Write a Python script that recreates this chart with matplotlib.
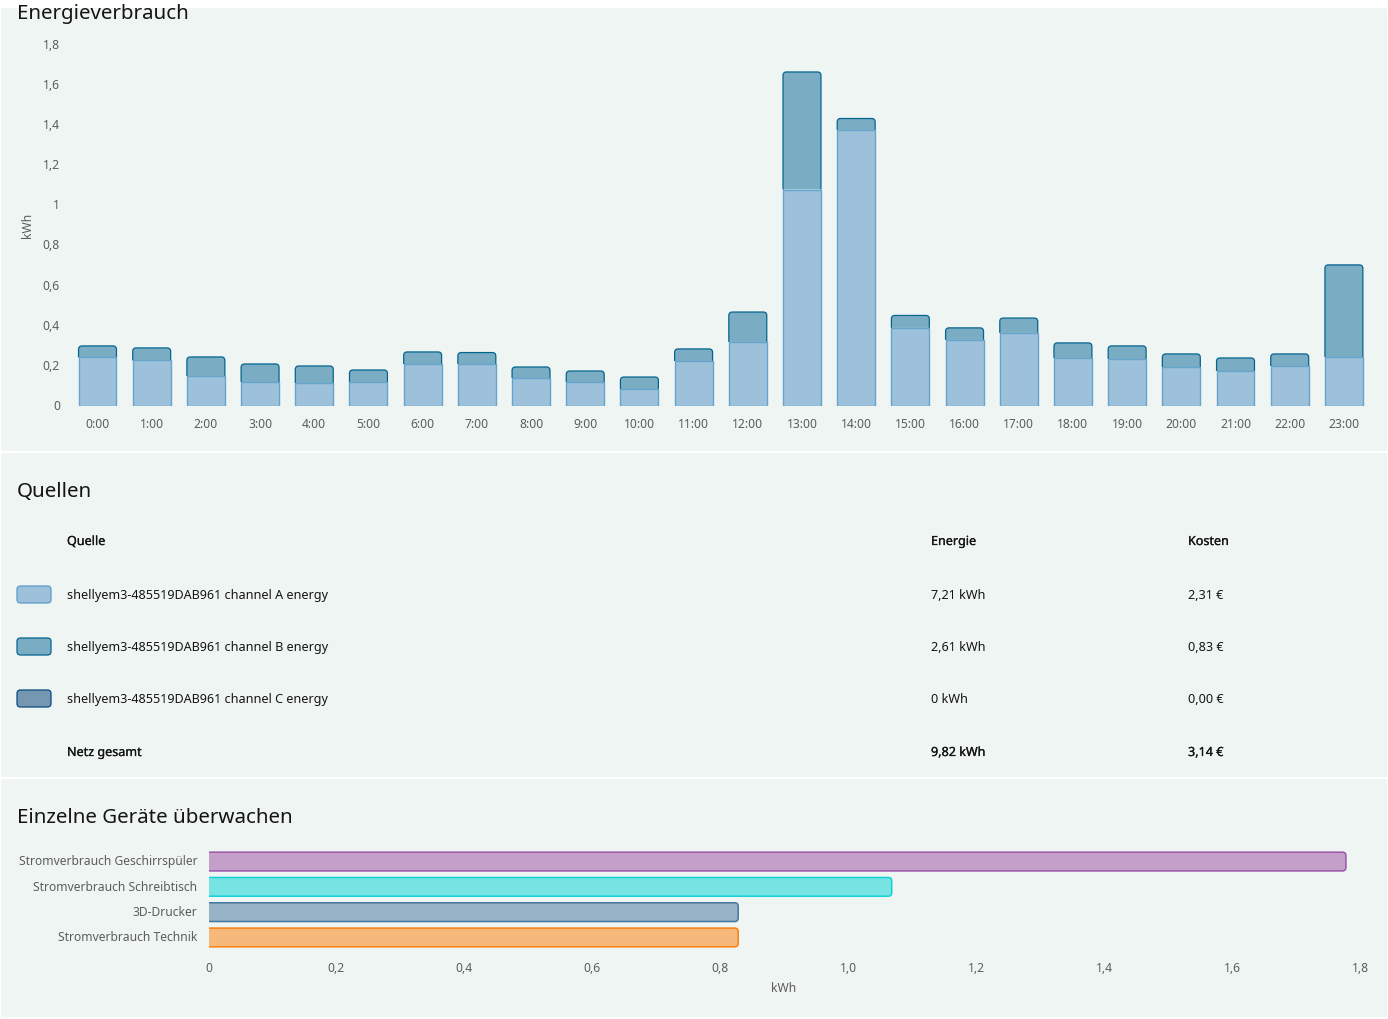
import matplotlib
matplotlib.use("Agg")
import matplotlib.pyplot as plt
import matplotlib.patches as mpatches
import matplotlib.patheffects as pe
from matplotlib.path import Path
from matplotlib.transforms import ScaledTranslation

W, H = 1388, 1019
plt.rcParams["font.family"] = ["Noto Sans", "DejaVu Sans"]

CARD = "#eff5f3"
TICK = "#5c5c5c"
DARK = "#141414"
TICK_SIZE = 8.7
TABLE_SIZE = 9.06
TITLE_SIZE = 14.75

hours = [f"{h}:00" for h in range(24)]
channel_a = [0.240, 0.225, 0.147, 0.117, 0.112, 0.117, 0.207, 0.207, 0.137, 0.117, 0.082, 0.222,
             0.317, 1.077, 1.374, 0.387, 0.327, 0.362, 0.237, 0.232, 0.192, 0.172, 0.197, 0.242]
channel_b = [0.057, 0.062, 0.095, 0.090, 0.085, 0.060, 0.060, 0.057, 0.055, 0.055, 0.060, 0.060,
             0.149, 0.586, 0.057, 0.062, 0.060, 0.074, 0.075, 0.065, 0.065, 0.065, 0.060, 0.459]
y_ticks = [0, 0.2, 0.4, 0.6, 0.8, 1.0, 1.2, 1.4, 1.6, 1.8]
y_tick_labels = ["0", "0,2", "0,4", "0,6", "0,8", "1", "1,2", "1,4", "1,6", "1,8"]

table_header = ["Quelle", "Energie", "Kosten"]
source_names = ["shellyem3-485519DAB961 channel A energy",
                "shellyem3-485519DAB961 channel B energy",
                "shellyem3-485519DAB961 channel C energy"]
source_energy = ["7,21 kWh", "2,61 kWh", "0 kWh"]
source_cost = ["2,31 €", "0,83 €", "0,00 €"]
table_total = ["Netz gesamt", "9,82 kWh", "3,14 €"]

devices = ["Stromverbrauch Geschirrspüler", "Stromverbrauch Schreibtisch", "3D-Drucker", "Stromverbrauch Technik"]
device_values = [1.778, 1.068, 0.828, 0.828]
device_fill = ["#c39fca", "#77e4e3", "#98b2c7", "#f6b97b"]
device_edge = ["#9c55a8", "#10d3d6", "#44779f", "#fd7f0e"]
x_ticks = [0, 0.2, 0.4, 0.6, 0.8, 1.0, 1.2, 1.4, 1.6, 1.8]
x_tick_labels = ["0", "0,2", "0,4", "0,6", "0,8", "1,0", "1,2", "1,4", "1,6", "1,8"]


def px_axes(fig, left, top, right, bottom):
    return fig.add_axes([left / W, 1 - bottom / H, (right - left) / W, (bottom - top) / H])


def rounded_bar(ax, x0, y0, x1, y1, side, fill, edge, r=3.5, lw=0.9, zorder=2):
    # rounded corners on the far end of the bar only, the base stays open
    box = ax.get_window_extent()
    rx = r * abs(ax.get_xlim()[1] - ax.get_xlim()[0]) / box.width
    ry = r * abs(ax.get_ylim()[1] - ax.get_ylim()[0]) / box.height
    if side == "top":
        verts = [(x0, y0), (x0, y1 - ry), (x0, y1), (x0 + rx, y1),
                 (x1 - rx, y1), (x1, y1), (x1, y1 - ry), (x1, y0)]
    else:
        verts = [(x0, y0), (x1 - rx, y0), (x1, y0), (x1, y0 + ry),
                 (x1, y1 - ry), (x1, y1), (x1 - rx, y1), (x0, y1)]
    codes = [Path.MOVETO, Path.LINETO, Path.CURVE3, Path.CURVE3,
             Path.LINETO, Path.CURVE3, Path.CURVE3, Path.LINETO]
    ax.add_patch(mpatches.PathPatch(Path(verts, codes), facecolor=fill, edgecolor="none", zorder=zorder))
    ax.add_patch(mpatches.PathPatch(Path(verts, codes), facecolor="none", edgecolor=edge, lw=lw, zorder=zorder))


def clean_axis(ax):
    ax.patch.set_alpha(0)
    for s in ax.spines.values():
        s.set_visible(False)
    ax.tick_params(length=0, labelsize=TICK_SIZE, labelcolor=TICK)


def shift_labels(labels, fig, dy_px):
    for label in labels:
        label.set_transform(label.get_transform() + ScaledTranslation(0, dy_px / 100, fig.dpi_scale_trans))


fig = plt.figure(figsize=(W / 100, H / 100), dpi=100, facecolor="white")

# page layer in pixel coordinates
page = fig.add_axes([0, 0, 1, 1])
page.set_xlim(0, W)
page.set_ylim(H, 0)
page.axis("off")

cards = []
for top, bottom in [(8, 451), (453, 777), (779, 1017)]:
    card = mpatches.FancyBboxPatch((3, top + 2), W - 6, bottom - top - 4, boxstyle="round,pad=2",
                                   facecolor=CARD, edgecolor="none")
    page.add_patch(card)
    cards.append(card)

for label, y, card in [("Energieverbrauch", 18.5, cards[0]), ("Quellen", 497, cards[1]),
                       ("Einzelne Geräte überwachen", 823, cards[2])]:
    t = page.text(17, y, label, fontsize=TITLE_SIZE, color=DARK, va="baseline")
    t.set_clip_path(card)

# table
medium = [pe.withStroke(linewidth=0.18, foreground=DARK)]
col_x = [67, 931, 1188]
for x, label in zip(col_x, table_header):
    page.text(x, 545, label, fontsize=TABLE_SIZE, color=DARK, va="baseline", path_effects=medium)
swatches = [("#9dc1db", "#5b9bc8"), ("#7aadc4", "#04648f"), ("#7597b1", "#0b4a80")]
for i, y in enumerate([594, 646, 698]):
    fill, edge = swatches[i]
    page.add_patch(mpatches.FancyBboxPatch((19, y - 6), 30, 13, boxstyle="round,pad=2,rounding_size=3.5",
                                           facecolor=fill, edgecolor=edge, lw=0.9))
    page.text(col_x[0], y + 5, source_names[i], fontsize=TABLE_SIZE, color=DARK, va="baseline")
    page.text(col_x[1], y + 5, source_energy[i], fontsize=TABLE_SIZE, color=DARK, va="baseline")
    page.text(col_x[2], y + 5, source_cost[i], fontsize=TABLE_SIZE, color=DARK, va="baseline")
for x, label in zip(col_x, table_total):
    page.text(x, 756, label, fontsize=TABLE_SIZE, color=DARK, va="baseline", path_effects=medium)

# stacked hourly chart
ax = px_axes(fig, 70.4, 44.5, 1371, 405.5)
ax.set_xlim(-0.5, 23.5)
ax.set_ylim(0, 1.8)
clean_axis(ax)
width = 0.70
ax.bar(range(24), channel_a, width=width, color="#9dc1db", edgecolor="#66a3cd", lw=1.0, zorder=3)
for i, (a, b) in enumerate(zip(channel_a, channel_b)):
    rounded_bar(ax, i - width / 2, a, i + width / 2, a + b, "top", "#7aadc4", "#04648f")
ax.set_xticks(range(24))
ax.set_xticklabels(hours)
ax.set_yticks(y_ticks)
ax.set_yticklabels(y_tick_labels)
ax.tick_params(axis="x", pad=9.2)
ax.tick_params(axis="y", pad=7.5)
shift_labels(ax.get_yticklabels(), fig, 0.6)
page.text(27.5, 225.5, "kWh", fontsize=TICK_SIZE, color=TICK, rotation=90, ha="center", va="center")

# device chart
ax2 = px_axes(fig, 208.5, 848.9, 1360, 950.1)
ax2.set_xlim(0, 1.8)
ax2.set_ylim(3.5, -0.5)
clean_axis(ax2)
height = 0.74
for i, v in enumerate(device_values):
    rounded_bar(ax2, 0, i - height / 2, v, i + height / 2, "right", device_fill[i], device_edge[i], lw=1.1)
ax2.set_yticks(range(len(devices)))
ax2.set_yticklabels(devices)
ax2.set_xticks(x_ticks)
ax2.set_xticklabels(x_tick_labels)
ax2.tick_params(axis="x", pad=8.5)
ax2.tick_params(axis="y", pad=8)
shift_labels(ax2.get_yticklabels(), fig, 1.2)
page.text(784, 988.5, "kWh", fontsize=TICK_SIZE, color=TICK, ha="center", va="center")

fig.savefig("out.png", dpi=100)
